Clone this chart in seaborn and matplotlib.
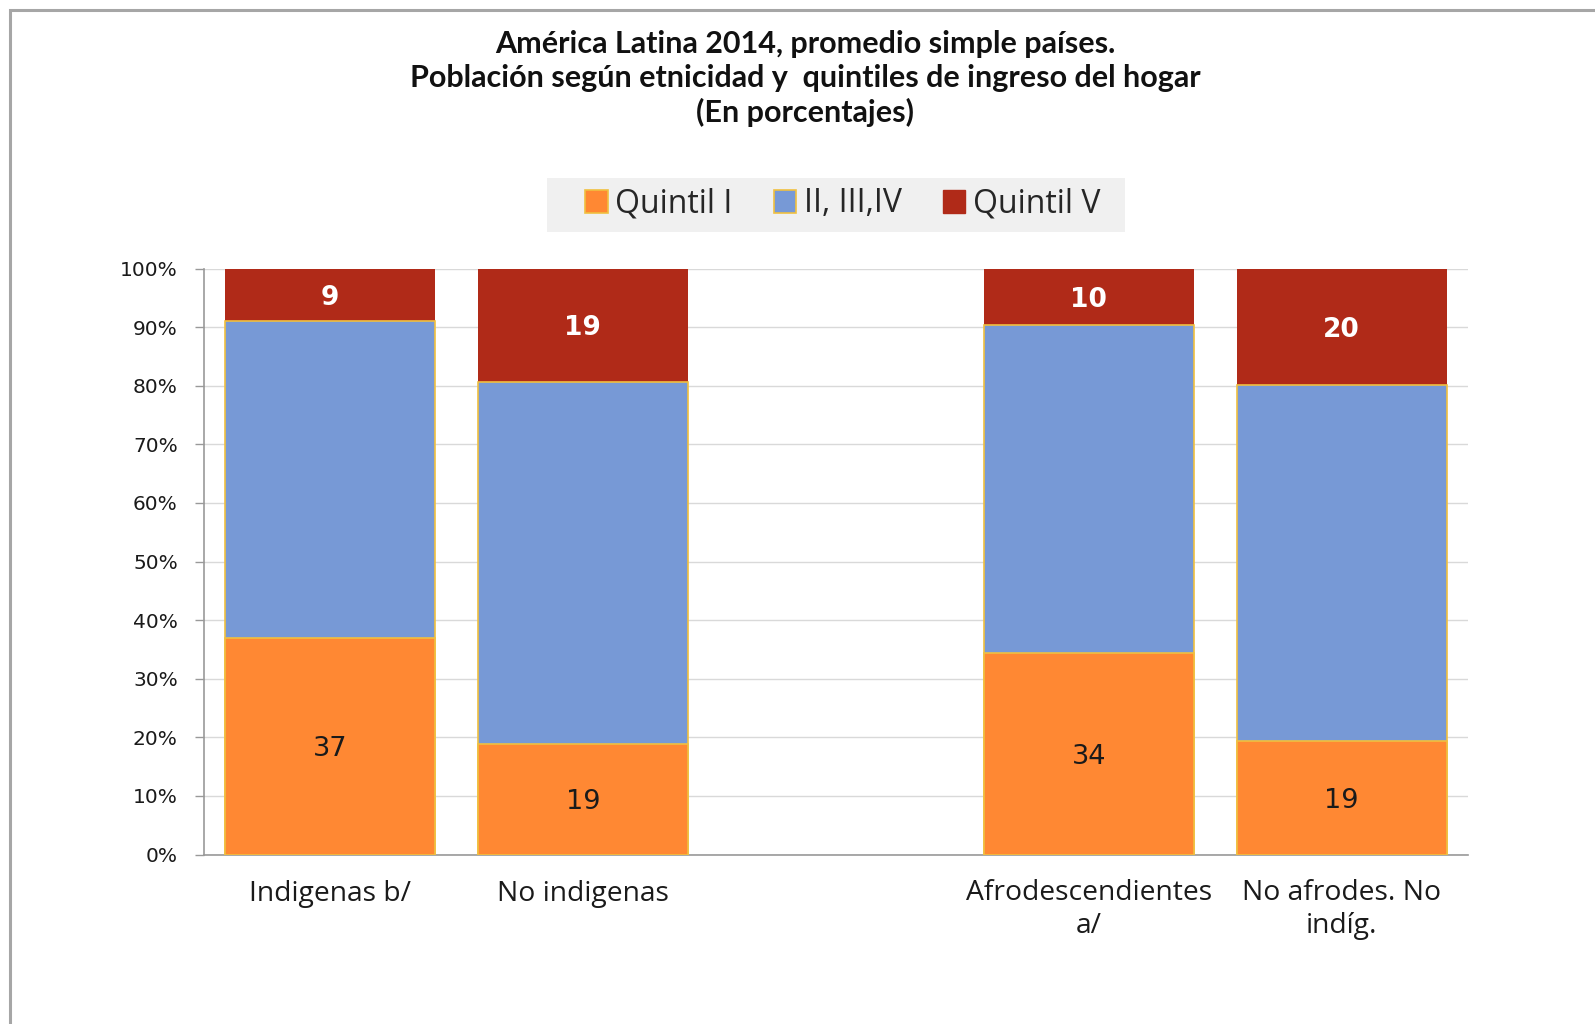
import numpy as np
import pandas as pd
import matplotlib.pyplot as plt
import seaborn as sns
from matplotlib.patches import Patch, Rectangle
from matplotlib.ticker import FuncFormatter

# datos (porcentajes)
grupos = ['Indigenas b/', 'No indigenas', 'Afrodescendientes\na/', 'No afrodes. No\nindíg.']
quintil_1 = [37.0, 18.8, 34.4, 19.4]
quintil_2_4 = [54.0, 61.9, 55.9, 60.8]
quintil_5 = [9.0, 19.3, 9.7, 19.8]
series = ['Quintil I', 'II, III,IV', 'Quintil V']
colores = ['#FF8833', '#7799D6', '#B02A18']
borde = '#F0C040'

sns.set_style('white')
plt.rcParams['font.family'] = ['DejaVu Sans']

df = pd.DataFrame({'grupo': grupos, 'q1': quintil_1, 'mid': quintil_2_4, 'q5': quintil_5})
df['h_mid'] = df['q1'] + df['mid']
df['h_top'] = df['h_mid'] + df['q5']

# hueco vacio entre los dos pares de barras
orden = [grupos[0], grupos[1], ' ', grupos[2], grupos[3]]

W, H = 1595, 1024
fig = plt.figure(figsize=(W / 100, H / 100), dpi=100)
ax = fig.add_axes([203.5 / W, 1 - 854.5 / H, (1468 - 203.5) / W, (854.5 - 268.5) / H])

ancho = 0.83
sns.barplot(data=df, x='grupo', y='h_top', order=orden, color=colores[2], width=ancho,
            edgecolor=colores[2], linewidth=0, saturation=1, ax=ax, zorder=2)
sns.barplot(data=df, x='grupo', y='h_mid', order=orden, color=colores[1], width=ancho,
            edgecolor=borde, linewidth=1.2, saturation=1, ax=ax, zorder=3)
sns.barplot(data=df, x='grupo', y='q1', order=orden, color=colores[0], width=ancho,
            edgecolor=borde, linewidth=1.2, saturation=1, ax=ax, zorder=4)

for _, fila in df.iterrows():
    xi = orden.index(fila['grupo'])
    ax.text(xi, fila['q1'] / 2, f"{fila['q1']:.0f}", ha='center', va='center_baseline',
            fontsize=19.5, color='#1a1a1a', zorder=6)
    ax.text(xi, fila['h_top'] - fila['q5'] / 2, f"{fila['q5']:.0f}", ha='center',
            va='center_baseline', fontsize=19, fontweight='bold', color='white', zorder=6)

ax.set_xlim(-0.5, 4.5)
ax.set_ylim(0, 100)
ax.set_yticks(np.arange(0, 101, 10))
ax.yaxis.set_major_formatter(FuncFormatter(lambda v, p: f'{v:.0f}%'))
ax.grid(axis='y', color='#D9D9D9', linewidth=1)
ax.set_axisbelow(True)
ax.set_xlabel('')
ax.set_ylabel('')
for s in ['top', 'right']:
    ax.spines[s].set_visible(False)
for s in ['left', 'bottom']:
    ax.spines[s].set_color('#999999')
    ax.spines[s].set_linewidth(1.2)
ax.tick_params(axis='y', length=6.5, width=1, color='#999999', labelsize=14.5, pad=12,
               left=True, labelcolor='#1a1a1a')
ax.tick_params(axis='x', length=0, pad=18)
for lab in ax.get_xticklabels():
    lab.set_fontfamily('Open Sans')
    lab.set_fontsize(20.3)
    lab.set_color('#1a1a1a')
    lab.set_linespacing(1.2)

fig.text(805 / W, 1 - 30 / H,
         'América Latina 2014, promedio simple países.\n'
         'Población según etnicidad y  quintiles de ingreso del hogar\n'
         '(En porcentajes)',
         ha='center', va='top', fontsize=22, fontweight='bold', family='Lato',
         linespacing=1.26, color='#111111')

# fondo gris de la leyenda
fig.patches.append(Rectangle((547 / W, 1 - 232 / H), (1125 - 547) / W, (232 - 178) / H,
                             transform=fig.transFigure, facecolor='#F0F0F0',
                             edgecolor='none', zorder=0))

manijas = [Patch(facecolor=colores[0], edgecolor=borde, linewidth=1.2),
           Patch(facecolor=colores[1], edgecolor=borde, linewidth=1.2),
           Patch(facecolor=colores[2], edgecolor=colores[2])]
leg = fig.legend(manijas, series, loc='center', bbox_to_anchor=(843 / W, 1 - 204 / H),
                 ncol=3, frameon=False, handlelength=0.7, handleheight=0.7,
                 handletextpad=0.25, columnspacing=1.28, borderpad=0.3,
                 prop={'family': 'Open Sans', 'size': 23})

fig.patches.append(Rectangle((9.5 / W, -0.1), 1.2, 1.1 - 10 / H, transform=fig.transFigure,
                             fill=False, edgecolor='#A6A6A6', linewidth=2.2, clip_on=False))

fig.savefig('out.png', dpi=100)
